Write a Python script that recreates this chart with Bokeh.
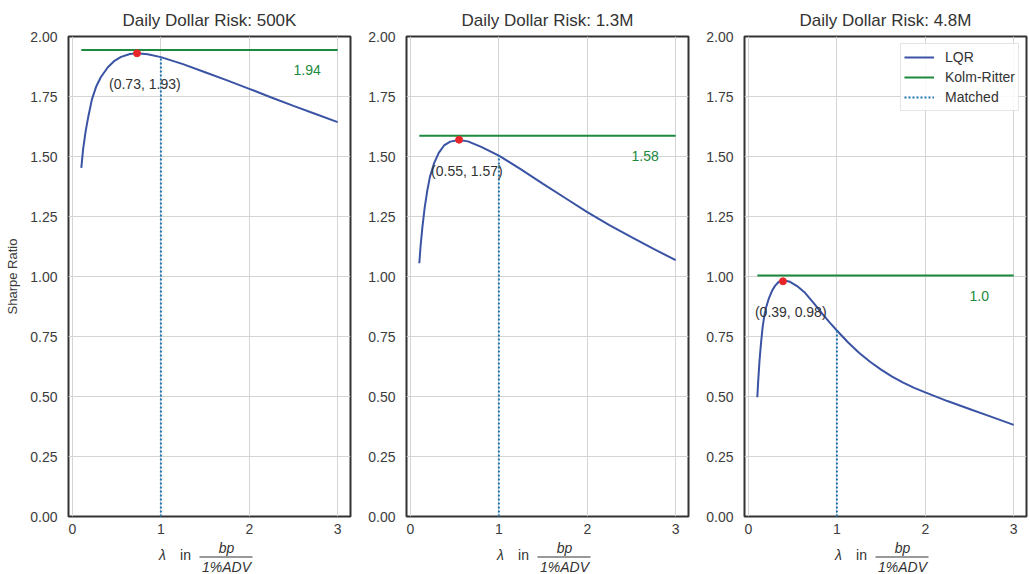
from bokeh.plotting import figure
from bokeh.layouts import row, column
from bokeh.models import (Range1d, FixedTicker, NumeralTickFormatter, Legend, LegendItem)
from bokeh.embed import file_html
from bokeh.resources import INLINE
from bokeh.core.properties import value

# ---------------- data ----------------
titles = ["Daily Dollar Risk: 500K", "Daily Dollar Risk: 1.3M", "Daily Dollar Risk: 4.8M"]

lam_1 = [0.10, 0.12, 0.15, 0.18, 0.22, 0.27, 0.32, 0.40, 0.47, 0.55, 0.65, 0.73, 0.85, 1.00,
         1.25, 1.50, 1.75, 2.00, 2.25, 2.50, 2.75, 3.00]
lqr_1 = [1.453, 1.530, 1.608, 1.668, 1.738, 1.793, 1.830, 1.872, 1.897, 1.915, 1.927, 1.930,
         1.926, 1.914, 1.885, 1.851, 1.817, 1.782, 1.746, 1.711, 1.677, 1.643]

lam_2 = [0.10, 0.115, 0.135, 0.16, 0.19, 0.22, 0.265, 0.32, 0.38, 0.45, 0.55, 0.65, 0.80, 1.00,
         1.25, 1.50, 1.75, 2.00, 2.25, 2.50, 2.75, 3.00]
lqr_2 = [1.055, 1.130, 1.206, 1.285, 1.358, 1.415, 1.470, 1.515, 1.546, 1.562, 1.569, 1.563,
         1.540, 1.504, 1.446, 1.386, 1.327, 1.268, 1.214, 1.164, 1.115, 1.068]

lam_3 = [0.10, 0.11, 0.125, 0.14, 0.16, 0.18, 0.20, 0.23, 0.27, 0.30, 0.34, 0.39, 0.47, 0.55,
         0.64, 0.75, 0.85, 0.925, 1.00, 1.125, 1.25, 1.375, 1.50, 1.625, 1.75, 1.875, 2.00,
         2.25, 2.50, 2.75, 3.00]
lqr_3 = [0.497, 0.565, 0.650, 0.715, 0.789, 0.838, 0.872, 0.908, 0.943, 0.961, 0.977, 0.985,
         0.978, 0.960, 0.932, 0.884, 0.838, 0.806, 0.775, 0.726, 0.682, 0.645, 0.612, 0.583,
         0.558, 0.536, 0.517, 0.481, 0.448, 0.415, 0.382]

kolm_ritter = [1.944, 1.586, 1.004]
kolm_ritter_labels = ["1.94", "1.58", "1.0"]
peak_lam = [0.73, 0.55, 0.39]
peak_sr = [1.93, 1.57, 0.98]
matched_lam = 1.0

x_ticks = [0, 1, 2, 3]
y_ticks = [0.0, 0.25, 0.5, 0.75, 1.0, 1.25, 1.5, 1.75, 2.0]

lams = [lam_1, lam_2, lam_3]
lqrs = [lqr_1, lqr_2, lqr_3]

# ---------------- style ----------------
FONT = "Liberation Sans"
TXT = "#333333"
TICK = "#3c3c3c"
BLUE = "#3a53a4"
GREEN = "#1b8a3e"
DOT = "#1f77b4"
RED = "#e8262a"

X0, X1 = -0.045, 3.145
FRAME_W = 282
FRAME_H = 480
TOP = 36
BOTTOM = 22
LAB_H = 36
lefts = [68, 50, 50]
rights = [6, 6, 3]

figs = []
label_figs = []
for i in range(3):
    w = lefts[i] + FRAME_W + rights[i]
    p = figure(width=w, height=TOP + FRAME_H + BOTTOM, x_range=Range1d(X0, X1),
               y_range=Range1d(0, 2.0),
               output_backend="svg", toolbar_location=None,
               min_border_left=lefts[i], min_border_right=rights[i],
               min_border_top=TOP, min_border_bottom=BOTTOM)
    p.title.text = titles[i]
    p.title.align = "center"
    p.title.text_font = FONT
    p.title.text_font_size = "17px"
    p.title.text_font_style = "normal"
    p.title.text_color = TXT
    p.title.standoff = 13

    p.outline_line_color = "#333333"
    p.outline_line_width = 2
    p.background_fill_color = "white"
    p.border_fill_color = "white"

    p.xaxis.ticker = FixedTicker(ticks=x_ticks)
    p.yaxis.ticker = FixedTicker(ticks=y_ticks)
    p.yaxis.formatter = NumeralTickFormatter(format="0.00")
    for ax in (p.xaxis, p.yaxis):
        ax.axis_line_color = None
        ax.major_tick_line_color = None
        ax.minor_tick_line_color = None
        ax.major_tick_out = 0
        ax.major_tick_in = 0
        ax.minor_tick_out = 0
        ax.minor_tick_in = 0
        ax.major_label_text_font = FONT
        ax.major_label_text_font_size = "14px"
        ax.major_label_text_color = TICK
    p.xaxis.major_label_standoff = 7
    p.yaxis.major_label_standoff = 11
    p.xgrid.grid_line_color = "#d4d4d4"
    p.ygrid.grid_line_color = "#d4d4d4"

    if i == 0:
        p.yaxis.axis_label = "Sharpe Ratio"
        p.yaxis.axis_label_text_font = FONT
        p.yaxis.axis_label_text_font_size = "13px"
        p.yaxis.axis_label_text_font_style = "normal"
        p.yaxis.axis_label_text_color = TICK
        p.yaxis.axis_label_standoff = 7

    lam = lams[i]
    lqr = lqrs[i]
    r_lqr = p.line(lam, lqr, line_color=BLUE, line_width=2)
    r_kr = p.line([lam[0], lam[-1]], [kolm_ritter[i], kolm_ritter[i]], line_color=GREEN,
                  line_width=2)
    m_val = lqr[lam.index(matched_lam)]
    r_m = p.line([matched_lam, matched_lam], [0, m_val], line_color=DOT, line_width=2,
                 line_dash="2 2")
    p.scatter([peak_lam[i]], [peak_sr[i]], size=7, color=RED, line_color=RED)
    p.text(x=[peak_lam[i]], y=[peak_sr[i]], text=[f"({peak_lam[i]}, {peak_sr[i]})"],
           x_offset=-28, y_offset=31, text_font=value(FONT), text_font_size="14px",
           text_color=TXT, text_align="left", text_baseline="middle")
    p.text(x=[2.5], y=[kolm_ritter[i]], text=[kolm_ritter_labels[i]], y_offset=20,
           text_font=value(FONT), text_font_size="14px", text_color=GREEN,
           text_align="left", text_baseline="middle")

    if i == 2:
        legend = Legend(items=[LegendItem(label="LQR", renderers=[r_lqr]),
                               LegendItem(label="Kolm-Ritter", renderers=[r_kr]),
                               LegendItem(label="Matched", renderers=[r_m])],
                        location="top_right")
        legend.label_text_font = FONT
        legend.label_text_font_size = "14px"
        legend.label_text_color = TXT
        legend.border_line_color = "#cccccc"
        legend.border_line_width = 1
        legend.background_fill_alpha = 0.85
        legend.glyph_width = 30
        legend.glyph_height = 20
        legend.label_height = 20
        legend.spacing = 0
        legend.padding = 3
        legend.margin = 7
        legend.label_standoff = 11
        p.add_layout(legend)
    figs.append(p)

    # x-axis label strip: lambda in bp / 1%ADV  (pixel coordinates)
    q = figure(width=w, height=LAB_H, x_range=Range1d(0, FRAME_W), y_range=Range1d(0, LAB_H),
               output_backend="svg", toolbar_location=None,
               min_border_left=lefts[i], min_border_right=rights[i],
               min_border_top=0, min_border_bottom=0)
    q.axis.visible = False
    q.grid.visible = False
    q.outline_line_color = None
    q.background_fill_color = "white"
    q.border_fill_color = "white"
    xc = FRAME_W / 2
    q.text(x=[xc - 47], y=[20], text=["λ"], text_font=value(FONT), text_font_size="14px",
           text_font_style="italic", text_color=TXT, text_align="center",
           text_baseline="middle")
    q.text(x=[xc - 24], y=[20], text=["in"], text_font=value(FONT), text_font_size="14px",
           text_color=TXT, text_align="center", text_baseline="middle")
    q.text(x=[xc + 17], y=[27], text=["bp"], text_font=value(FONT), text_font_size="14px",
           text_font_style="italic", text_color=TXT, text_align="center",
           text_baseline="middle")
    q.text(x=[xc + 17], y=[8], text=["1%ADV"], text_font=value(FONT), text_font_size="14px",
           text_font_style="italic", text_color=TXT, text_align="center",
           text_baseline="middle")
    q.segment(x0=[xc - 10], y0=[17.5], x1=[xc + 43], y1=[17.5], line_color=TXT, line_width=1)
    label_figs.append(q)

layout = column(row(*figs), row(*label_figs))
open("out.html", "w").write(file_html(layout, INLINE))
